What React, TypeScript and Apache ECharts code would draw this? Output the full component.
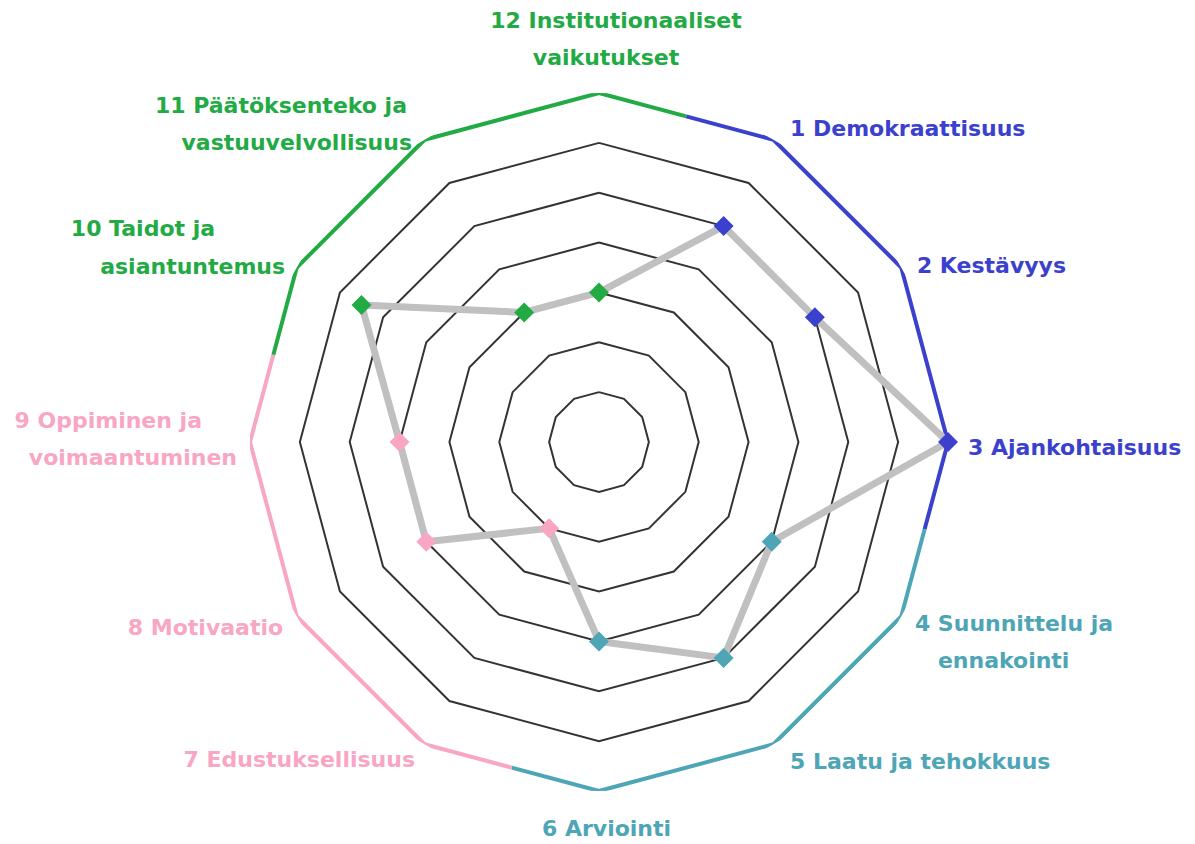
import React, { useEffect, useRef } from 'react';
import * as echarts from 'echarts';

// ---- data ----
const categories: string[] = [
  '1 Demokraattisuus',
  '2 Kestävyys',
  '3 Ajankohtaisuus',
  '4 Suunnittelu ja\nennakointi',
  '5 Laatu ja tehokkuus',
  '6 Arviointi',
  '7 Edustuksellisuus',
  '8 Motivaatio',
  '9 Oppiminen ja\nvoimaantuminen',
  '10 Taidot ja\nasiantuntemus',
  '11 Päätöksenteko ja\nvastuuvelvollisuus',
  '12 Institutionaaliset\nvaikutukset',
];
const values: number[] = [5, 5, 7, 4, 5, 4, 2, 4, 4, 5.5, 3, 3];
const groupOfCategory: number[] = [0, 0, 0, 1, 1, 1, 2, 2, 2, 3, 3, 3];
const groupColors: string[] = ['#3B41CD', '#4DA5B5', '#F8A6C3', '#22AA44'];
const scaleMax = 7;

// ---- styling / layout (not data) ----
const CENTER: [number, number] = [599, 442];
const RADIUS = 349;
const NAME_GAP = 10;
const FONT = 'DejaVu Sans';
const FONT_SIZE = 22;
const LINE_H = 37;
// per-line label nudges [dx, dy] relative to default placement
const labelNudges: [number, number][][] = [
  [[11.5, -3]],
  [[7, 2.5]],
  [[10, 5]],
  [[5, 20], [28, 20]],
  [[11.5, 9]],
  [[7.5, 8.5]],
  [[-4.5, 7]],
  [[-5, 5.5]],
  [[-38, -3.5], [-3, -3.5]],
  [[-73, -16], [-3, -15]],
  [[-12.5, -7.5], [-7.5, -7.5]],
  [[17, -7.5], [7, -7.5]],
];

const angleOf = (k: number) => ((k + 1) * 30) % 360; // clockwise from top

function buildOption() {
  const n = categories.length;
  // radar indicators go counter-clockwise from the top: 12, 11, ..., 1
  const order = Array.from({ length: n }, (_, i) => (n - 1 - i + n) % n);
  const rich: Record<string, any> = {};
  const nameByFull: Record<string, string> = {};
  categories.forEach((c, k) => {
    const lines = c.split('\n');
    const a = angleOf(k);
    const align = a === 0 || a === 180 ? 'center' : a < 180 ? 'left' : 'right';
    const parts = lines.map((ln, j) => {
      const [dx, dy] = labelNudges[k][j] || [0, 0];
      let pl = 0, pr = 0;
      if (align === 'left') pl = Math.max(0, dx);
      else if (align === 'right') pr = Math.max(0, -dx);
      else { if (dx > 0) pl = 2 * dx; else pr = -2 * dx; }
      const pt = dy > 0 ? 2 * dy : 0;
      const pb = dy < 0 ? -2 * dy : 0;
      const key = `t${k}_${j}`;
      rich[key] = {
        color: groupColors[groupOfCategory[k]],
        fontFamily: FONT,
        fontSize: FONT_SIZE,
        fontWeight: 'bold',
        lineHeight: LINE_H,
        padding: [pt, pr, pb, pl],
      };
      return `{${key}|${ln}}`;
    });
    nameByFull[c] = parts.join('\n');
  });

  const cos15 = Math.cos(Math.PI / 12);
  const ringSeries = groupColors.map((col, g) => {
    const a0 = angleOf(3 * g);
    const pts = [
      [scaleMax * cos15, (a0 - 15 + 360) % 360],
      [scaleMax, a0],
      [scaleMax, (a0 + 30) % 360 || 360],
      [scaleMax, (a0 + 60) % 360 || 360],
      [scaleMax * cos15, (a0 + 75) % 360],
    ];
    return {
      type: 'line',
      coordinateSystem: 'polar',
      data: pts,
      symbol: 'none',
      lineStyle: { color: col, width: 4 },
      z: 3,
      silent: true,
    };
  });

  return {
    animation: false,
    backgroundColor: '#ffffff',
    polar: { center: CENTER, radius: RADIUS },
    angleAxis: {
      type: 'value', min: 0, max: 360, startAngle: 90, clockwise: true, show: false,
    },
    radiusAxis: { type: 'value', min: 0, max: scaleMax, show: false },
    radar: {
      center: CENTER,
      radius: RADIUS,
      startAngle: 90,
      splitNumber: scaleMax,
      shape: 'polygon',
      nameGap: NAME_GAP,
      axisName: {
        fontFamily: FONT,
        fontSize: FONT_SIZE,
        fontWeight: 'bold',
        lineHeight: LINE_H,
        formatter: (name: string) => nameByFull[name] || name,
        rich,
      },
      axisLine: { show: false },
      axisTick: { show: false },
      axisLabel: { show: false },
      splitArea: { show: false },
      splitLine: {
        lineStyle: {
          color: ['#333', '#333', '#333', '#333', '#333', '#333', '#333', 'rgba(0,0,0,0)'],
          width: 2,
        },
      },
      indicator: order.map((k) => ({
        name: categories[k],
        min: 0,
        max: scaleMax,
        color: groupColors[groupOfCategory[k]],
      })),
    },
    series: [
      ...ringSeries,
      {
        type: 'radar',
        symbol: 'none',
        z: 4,
        lineStyle: { color: '#C0C0C0', width: 7 },
        data: [{ value: order.map((k) => values[k]) }],
        silent: true,
      },
      {
        type: 'scatter',
        coordinateSystem: 'polar',
        symbol: 'diamond',
        symbolSize: 20,
        z: 5,
        data: values.map((v, k) => ({
          value: [v, angleOf(k) === 0 ? 360 : angleOf(k)],
          itemStyle: { color: groupColors[groupOfCategory[k]], opacity: 1 },
        })),
      },
    ],
  };
}

export default function App() {
  const ref = useRef<HTMLDivElement>(null);
  useEffect(() => {
    if (!ref.current) return;
    const chart = echarts.init(ref.current, undefined, { renderer: 'svg' });
    chart.setOption(buildOption() as any);
    return () => chart.dispose();
  }, []);
  return (
    <div
      ref={ref}
      style={{ position: 'absolute', left: 0, top: 0, width: 1195, height: 844, background: '#fff' }}
    />
  );
}
